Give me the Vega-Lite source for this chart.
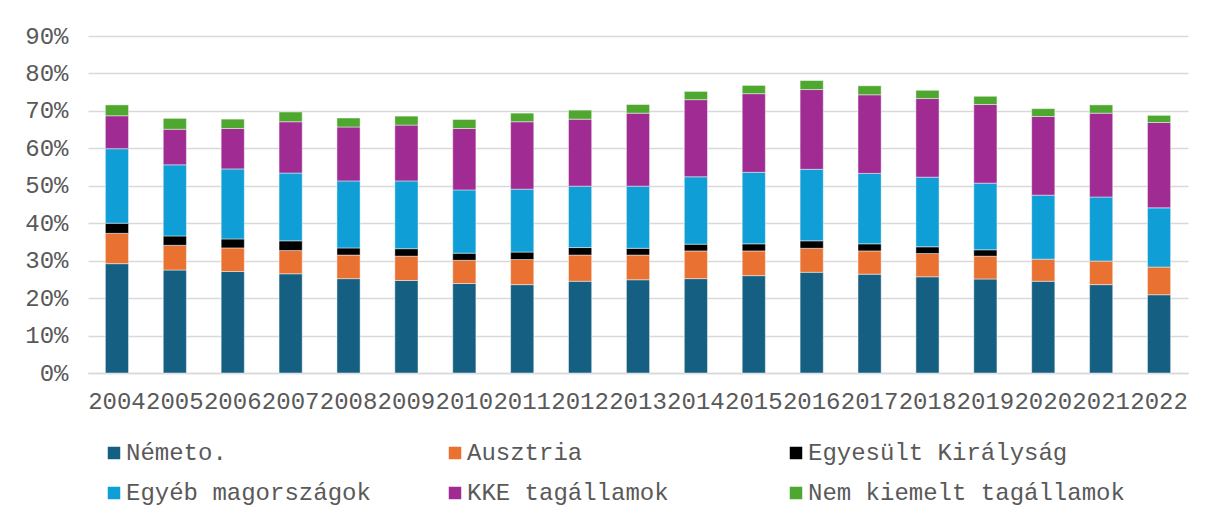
{
  "$schema": "https://vega.github.io/schema/vega-lite/v6.json",
  "width": 1100,
  "height": 337,
  "autosize": {"type": "none"},
  "padding": {"left": 88, "top": 36, "right": 18, "bottom": 150},
  "background": "white",
  "datasets": {
    "wide": [
      {"ev": "2004", "N": 29.2, "A": 8.1, "U": 2.7, "E": 19.9, "K": 8.8, "M": 2.9},
      {"ev": "2005", "N": 27.5, "A": 6.6, "U": 2.5, "E": 19.0, "K": 9.5, "M": 2.9},
      {"ev": "2006", "N": 27.1, "A": 6.3, "U": 2.4, "E": 18.7, "K": 10.8, "M": 2.5},
      {"ev": "2007", "N": 26.5, "A": 6.2, "U": 2.6, "E": 18.1, "K": 13.7, "M": 2.6},
      {"ev": "2008", "N": 25.2, "A": 6.3, "U": 1.9, "E": 17.9, "K": 14.4, "M": 2.4},
      {"ev": "2009", "N": 24.7, "A": 6.5, "U": 2.0, "E": 18.1, "K": 14.9, "M": 2.4},
      {"ev": "2010", "N": 23.9, "A": 6.2, "U": 1.9, "E": 16.9, "K": 16.4, "M": 2.4},
      {"ev": "2011", "N": 23.6, "A": 6.7, "U": 2.0, "E": 16.8, "K": 18.0, "M": 2.3},
      {"ev": "2012", "N": 24.5, "A": 7.0, "U": 2.0, "E": 16.4, "K": 17.9, "M": 2.4},
      {"ev": "2013", "N": 24.9, "A": 6.6, "U": 1.8, "E": 16.6, "K": 19.5, "M": 2.3},
      {"ev": "2014", "N": 25.2, "A": 7.4, "U": 1.8, "E": 18.0, "K": 20.6, "M": 2.2},
      {"ev": "2015", "N": 26.0, "A": 6.6, "U": 1.9, "E": 19.1, "K": 21.0, "M": 2.2},
      {"ev": "2016", "N": 26.9, "A": 6.4, "U": 2.0, "E": 19.1, "K": 21.3, "M": 2.4},
      {"ev": "2017", "N": 26.4, "A": 6.2, "U": 1.9, "E": 18.8, "K": 21.0, "M": 2.4},
      {"ev": "2018", "N": 25.7, "A": 6.2, "U": 1.8, "E": 18.6, "K": 21.0, "M": 2.2},
      {"ev": "2019", "N": 25.1, "A": 6.1, "U": 1.7, "E": 17.8, "K": 21.0, "M": 2.2},
      {"ev": "2020", "N": 24.5, "A": 5.9, "U": 0, "E": 17.1, "K": 21.0, "M": 2.1},
      {"ev": "2021", "N": 23.6, "A": 6.3, "U": 0, "E": 17.1, "K": 22.4, "M": 2.2},
      {"ev": "2022", "N": 20.9, "A": 7.4, "U": 0, "E": 15.8, "K": 22.8, "M": 1.9}
    ],
    "series": [
      {"key": "N", "s": "Németo.", "i": 1},
      {"key": "A", "s": "Ausztria", "i": 2},
      {"key": "U", "s": "Egyesült Királyság", "i": 3},
      {"key": "E", "s": "Egyéb magországok", "i": 4},
      {"key": "K", "s": "KKE tagállamok", "i": 5},
      {"key": "M", "s": "Nem kiemelt tagállamok", "i": 6}
    ]
  },
  "data": {"name": "wide"},
  "transform": [
    {"fold": ["N", "A", "U", "E", "K", "M"], "as": ["key", "v"]},
    {"filter": "datum.v > 0"},
    {"lookup": "key", "from": {"data": {"name": "series"}, "key": "key", "fields": ["s", "i"]}}
  ],
  "mark": {"type": "bar", "stroke": "#ffffff", "strokeWidth": 0.75, "strokeOpacity": 0.6},
  "encoding": {
    "x": {
      "field": "ev",
      "type": "ordinal",
      "title": null,
      "scale": {"paddingInner": 0.6, "paddingOuter": 0.3},
      "axis": {
        "labelAngle": 0,
        "labelFont": "Liberation Mono",
        "labelFontSize": 24,
        "labelColor": "#595959",
        "labelPadding": 16,
        "ticks": false,
        "tickSize": 0,
        "domainColor": "#d9d9d9",
        "domainWidth": 1.5,
        "labelOverlap": false,
        "labelBound": false
      }
    },
    "y": {
      "field": "v",
      "type": "quantitative",
      "stack": "zero",
      "title": null,
      "scale": {"domain": [0, 90], "nice": false},
      "axis": {
        "values": [0, 10, 20, 30, 40, 50, 60, 70, 80, 90],
        "labelExpr": "datum.value + '%'",
        "labelFont": "Liberation Mono",
        "labelFontSize": 24,
        "labelColor": "#595959",
        "labelPadding": 20,
        "ticks": false,
        "tickSize": 0,
        "domain": false,
        "grid": true,
        "gridColor": "#d9d9d9",
        "gridWidth": 1.5
      }
    },
    "color": {
      "field": "s",
      "type": "nominal",
      "scale": {
        "domain": ["Németo.", "Ausztria", "Egyesült Királyság", "Egyéb magországok", "KKE tagállamok", "Nem kiemelt tagállamok"],
        "range": ["#156082", "#E97132", "#000000", "#0F9ED5", "#A02B93", "#4EA72E"]
      },
      "legend": {
        "title": null,
        "orient": "none",
        "direction": "horizontal",
        "legendX": 14,
        "legendY": 405,
        "columns": 3,
        "gridAlign": "all",
        "columnPadding": -3,
        "rowPadding": 16,
        "padding": 0,
        "symbolType": "square",
        "symbolSize": 156,
        "symbolStrokeWidth": 0,
        "labelOffset": 0,
        "labelFont": "Liberation Mono",
        "labelFontSize": 24,
        "labelColor": "#595959",
        "labelLimit": 500
      }
    },
    "order": {"field": "i", "type": "quantitative", "sort": "ascending"}
  },
  "config": {"view": {"stroke": null}}
}
